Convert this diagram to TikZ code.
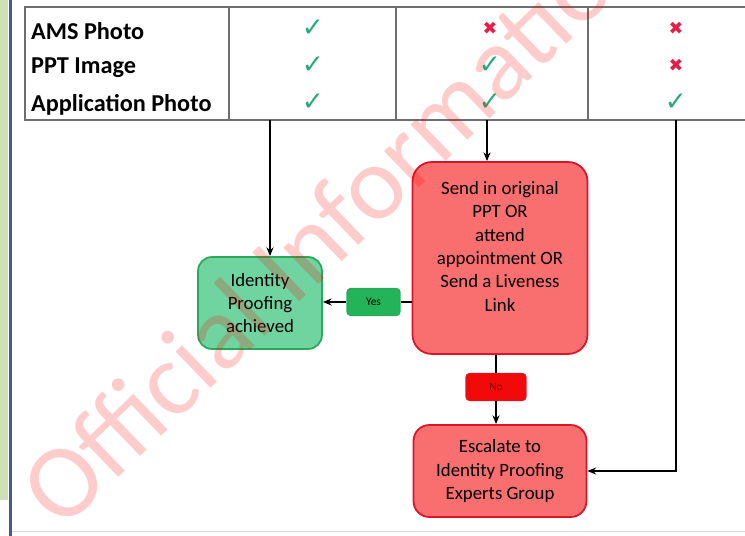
\documentclass[tikz,border=0pt]{standalone}
\usepackage{fontspec}
\setmainfont{Carlito}
\newfontfamily\symfont{DejaVu Sans}
\usetikzlibrary{positioning,arrows.meta}

\definecolor{tickgreen}{RGB}{40,170,120}
\definecolor{crossred}{RGB}{228,30,70}
\definecolor{okfill}{RGB}{112,212,160}
\definecolor{okline}{RGB}{40,170,90}
\definecolor{redfill}{RGB}{249,110,110}
\definecolor{redline}{RGB}{220,20,40}
\definecolor{yesfill}{RGB}{35,180,90}
\definecolor{nofill}{RGB}{242,10,10}
\definecolor{gridgrey}{RGB}{110,110,110}
\definecolor{stripgreen}{RGB}{205,225,180}
\definecolor{stripblue}{RGB}{70,90,140}

\begin{document}
\begin{tikzpicture}[x=0.02cm,y=-0.02cm,
  box/.style={draw,line width=1pt,align=center,inner sep=0pt,
    font=\fontsize{10.7}{13.3}\selectfont},
  tag/.style={draw,rounded corners=2pt,line width=0.6pt,inner sep=0pt,
    minimum width=1.06cm,minimum height=0.54cm,font=\fontsize{6.5}{7}\selectfont},
  link/.style={line width=1pt,-{Stealth[length=5pt,width=4pt]}},
  rowlabel/.style={anchor=west,font=\fontsize{13.8}{15}\selectfont\bfseries},
  signmark/.style={font=\symfont\fontsize{15}{15}\selectfont}]
\useasboundingbox (0,0) rectangle (745,536);
\clip (0,0) rectangle (745,536);

% page edge
\fill[stripgreen] (0,0) rectangle (8,500);
\fill[stripblue] (9,0) rectangle (12,536);
\draw[gray!30] (12,531) -- (745,531);

% table
\draw[gridgrey,line width=0.7pt] (25,7) rectangle (760,120);
\foreach \x in {229,396,588}
	\draw[gridgrey,line width=0.7pt] (\x,7) -- (\x,120);

\foreach \y/\t in {31/AMS Photo,68/PPT Image,105/Application Photo}
	\node[rowlabel] at (25,\y) {\t};

% ticks and crosses (column x / row y / sign)
\foreach \x/\y/\s in {313/28/1,313/65/1,313/102/1,
                      490/28/0,490/65/1,490/102/1,
                      676/28/0,676/65/0,676/102/1}
{
	\ifnum\s=1
		\node[signmark,text=tickgreen] at (\x,\y) {✓};
	\else
		\node[signmark,text=crossred,font=\symfont\fontsize{10}{10}\selectfont\bfseries] at (\x,\y) {✖};
	\fi
}

\coordinate (c1) at (270,120);
\coordinate (c2) at (487,120);
\coordinate (c3) at (676,120);

% boxes
\node[box,fill=okfill,draw=okline,rounded corners=8pt,
	minimum width=2.48cm,minimum height=1.84cm] (done) at (260,303)
	{Identity\\Proofing\\achieved};
\node[box,fill=redfill,draw=redline,rounded corners=11pt,
	minimum width=3.5cm,minimum height=3.84cm] (send) at (500,258)
	{Send in original\\PPT OR\\attend\\appointment OR\\Send a Liveness\\Link\\\mbox{}};
\node[box,fill=redfill,draw=redline,rounded corners=9pt,
	minimum width=3.46cm,minimum height=1.84cm] (escal) at (500,471)
	{Escalate to\\Identity Proofing\\Experts Group};

\node[tag,fill=yesfill,draw=okline] (yes) at (373.5,302) {Yes};
\node[tag,fill=nofill,draw=redline,minimum width=1.2cm,text=red!50!black] (no) at (496,387) {No};

% connectors
\draw[link] (c1) -- (c1 |- done.north);
\draw[link] (c2) -- (c2 |- send.north);
\draw[line width=1pt] (send.west |- yes) -- (yes);
\draw[link] (yes) -- (done.east |- yes);
\draw[line width=1pt] (no |- send.south) -- (no);
\draw[link] (no) -- (no |- escal.north);
\draw[link] (c3) |- (escal.east);

% watermark
\node[anchor=base west,rotate=44,text=red,opacity=0.2,inner sep=0pt,
	font=\fontsize{60}{60}\selectfont] (stamp) at (62,532) {Official Information};
\end{tikzpicture}
\end{document}
